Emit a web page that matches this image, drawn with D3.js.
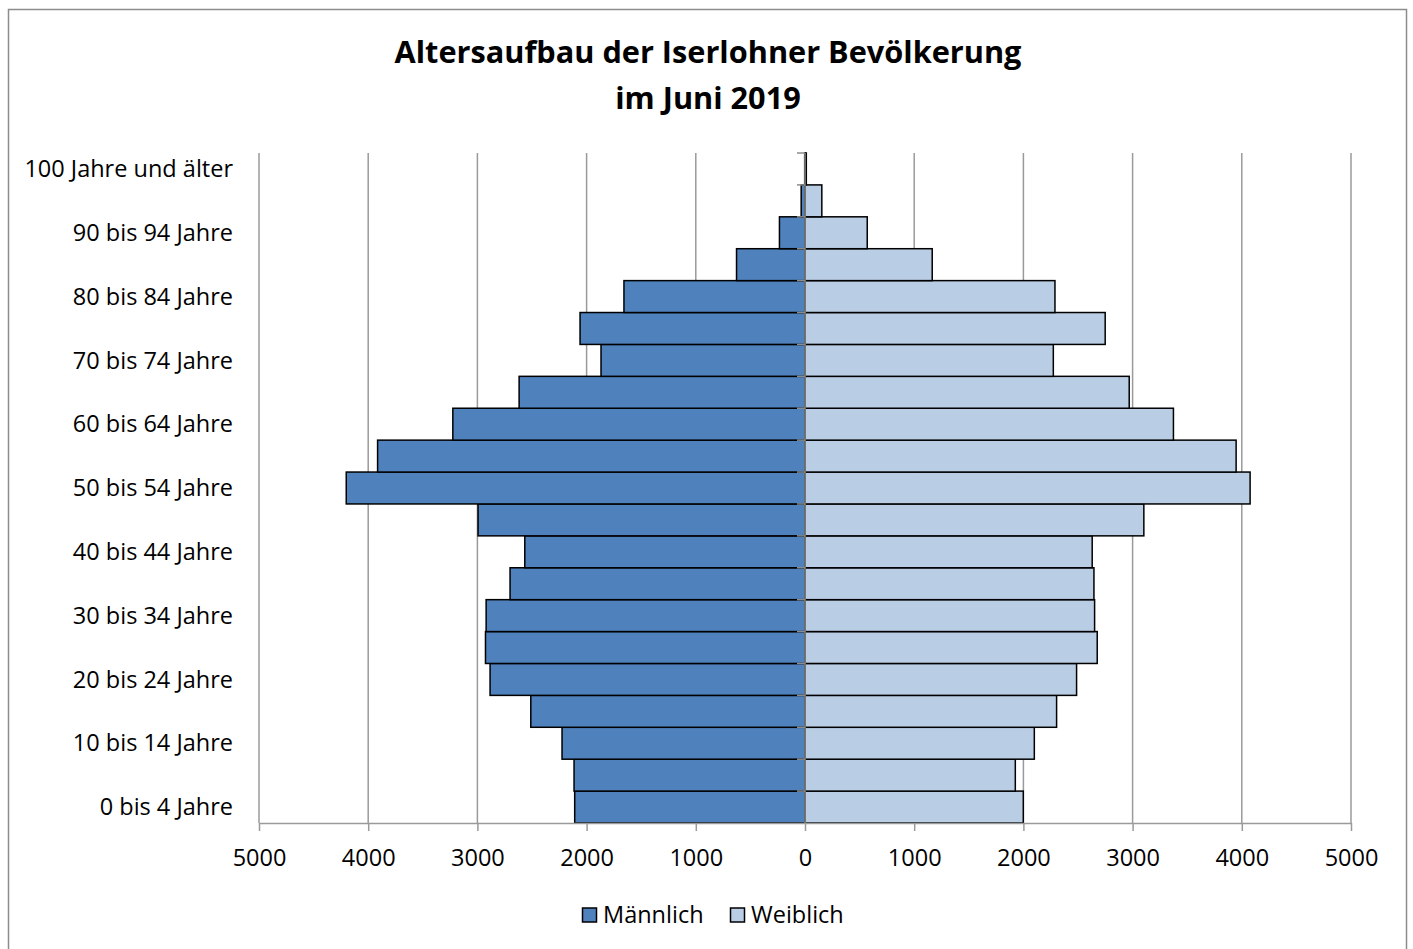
<!DOCTYPE html>
<html>
<head>
<meta charset="utf-8">
<script src="https://cdn.jsdelivr.net/npm/d3@7"></script>
<style>
  body { margin: 0; background: #fff; }
  svg { font-family: "Open Sans", sans-serif; }
</style>
</head>
<body>
<div id="chart-area"></div>
<script>
// Age groups, youngest first
var ageGroups = ["0 bis 4 Jahre", "5 bis 9 Jahre", "10 bis 14 Jahre", "15 bis 19 Jahre",
    "20 bis 24 Jahre", "25 bis 29 Jahre", "30 bis 34 Jahre", "35 bis 39 Jahre",
    "40 bis 44 Jahre", "45 bis 49 Jahre", "50 bis 54 Jahre", "55 bis 59 Jahre",
    "60 bis 64 Jahre", "65 bis 69 Jahre", "70 bis 74 Jahre", "75 bis 79 Jahre",
    "80 bis 84 Jahre", "85 bis 89 Jahre", "90 bis 94 Jahre", "95 bis 99 Jahre",
    "100 Jahre und älter"];

var maennlich = [2109, 2115, 2225, 2511, 2884, 2926, 2920, 2701, 2566, 2994, 4201,
    3914, 3225, 2618, 1868, 2060, 1658, 627, 234, 35, 3];
var weiblich = [1999, 1926, 2100, 2304, 2487, 2676, 2652, 2646, 2630, 3103, 4076,
    3948, 3374, 2969, 2274, 2749, 2289, 1165, 570, 154, 12];

var xTicks = [-5000, -4000, -3000, -2000, -1000, 0, 1000, 2000, 3000, 4000, 5000];
var seriesNames = ["Männlich", "Weiblich"];

var W = 1413, H = 949;
var margin = { left: 259, right: 62, top: 153, bottom: 126 },
    width = W - margin.left - margin.right,
    height = H - margin.top - margin.bottom;

var colours = { "Männlich": "#4F81BD", "Weiblich": "#B9CDE5" };
var fontSize = "23.5px";

var svg = d3.select("#chart-area").append("svg")
    .attr("width", W)
    .attr("height", H);

// chart frame
svg.append("rect")
    .attr("x", 8.5).attr("y", 9.5)
    .attr("width", 1398).attr("height", 960)
    .attr("fill", "none")
    .attr("stroke", "#8c8c8c")
    .attr("stroke-width", 1.5);

var title = svg.append("text")
    .attr("text-anchor", "middle")
    .attr("font-size", "30.7px")
    .attr("font-weight", "bold");
title.append("tspan").attr("x", 708).attr("y", 63).text("Altersaufbau der Iserlohner Bevölkerung");
title.append("tspan").attr("x", 708).attr("y", 109).text("im Juni 2019");

var g = svg.append("g")
    .attr("transform", "translate(" + margin.left + "," + margin.top + ")");

// Scales
var x = d3.scaleLinear().domain([-5000, 5000]).range([0, width]);
var y = d3.scaleBand().domain(ageGroups).range([height, 0]).padding(0);

// Gridlines
g.append("g")
    .selectAll("line")
    .data(xTicks.filter(function(d) { return d !== 0; }))
    .enter().append("line")
    .attr("x1", function(d) { return x(d); })
    .attr("x2", function(d) { return x(d); })
    .attr("y1", 0)
    .attr("y2", height)
    .attr("stroke", "#9a9a9a")
    .attr("stroke-width", 1.5);

// Bars
g.append("g").selectAll("rect")
    .data(ageGroups)
    .enter().append("rect")
    .attr("x", function(d, i) { return x(-maennlich[i]); })
    .attr("y", function(d) { return y(d); })
    .attr("width", function(d, i) { return x(0) - x(-maennlich[i]); })
    .attr("height", y.bandwidth())
    .attr("fill", colours["Männlich"])
    .attr("stroke", "#000")
    .attr("stroke-width", 1.5);

g.append("g").selectAll("rect")
    .data(ageGroups)
    .enter().append("rect")
    .attr("x", x(0))
    .attr("y", function(d) { return y(d); })
    .attr("width", function(d, i) { return x(weiblich[i]) - x(0); })
    .attr("height", y.bandwidth())
    .attr("fill", colours["Weiblich"])
    .attr("stroke", "#000")
    .attr("stroke-width", 1.5);

// X axis
var xAxisCall = d3.axisBottom(x)
    .tickValues(xTicks)
    .tickSizeInner(8)
    .tickSizeOuter(0)
    .tickPadding(18)
    .tickFormat(function(d) { return Math.abs(d); });

var xAxis = g.append("g")
    .attr("class", "x axis")
    .attr("transform", "translate(0," + height + ")")
    .call(xAxisCall);
xAxis.select(".domain").attr("stroke", "#9a9a9a").attr("stroke-width", 1.5);
xAxis.selectAll(".tick line").attr("stroke", "#9a9a9a").attr("stroke-width", 1.5);
xAxis.selectAll("text")
    .attr("font-size", fontSize)
    .attr("fill", "#000")
    .attr("font-family", "Open Sans, sans-serif");

// Y axis at zero, ticks on each category boundary
var yAxis = g.append("g").attr("class", "y axis");
yAxis.append("line")
    .attr("x1", x(0)).attr("x2", x(0))
    .attr("y1", 0).attr("y2", height)
    .attr("stroke", "#8c8c8c")
    .attr("stroke-width", 1.5);
yAxis.selectAll(".ytick")
    .data(ageGroups)
    .enter().append("line")
    .attr("class", "ytick")
    .attr("x1", x(0) - 8).attr("x2", x(0))
    .attr("y1", function(d) { return y(d); })
    .attr("y2", function(d) { return y(d); })
    .attr("stroke", "#8c8c8c")
    .attr("stroke-width", 1.5);

// Category labels at the low side, every second group
g.append("g").selectAll("text")
    .data(ageGroups.filter(function(d, i) { return i % 2 === 0; }))
    .enter().append("text")
    .attr("x", -26)
    .attr("y", function(d) { return y(d) + y.bandwidth() / 2; })
    .attr("dy", "0.35em")
    .attr("text-anchor", "end")
    .attr("font-size", fontSize)
    .text(function(d) { return d; });

// Legend
var legend = svg.append("g")
    .attr("transform", "translate(582,915)");
var legendX = [0, 148];
seriesNames.forEach(function(name, i) {
    var row = legend.append("g")
        .attr("transform", "translate(" + legendX[i] + ",0)");
    row.append("rect")
        .attr("x", 0.5).attr("y", -7)
        .attr("width", 14).attr("height", 14)
        .attr("fill", colours[name])
        .attr("stroke", "#000")
        .attr("stroke-width", 1.5);
    row.append("text")
        .attr("x", 21)
        .attr("y", 0)
        .attr("dy", "0.35em")
        .attr("font-size", fontSize)
        .text(name);
});
</script>
</body>
</html>
